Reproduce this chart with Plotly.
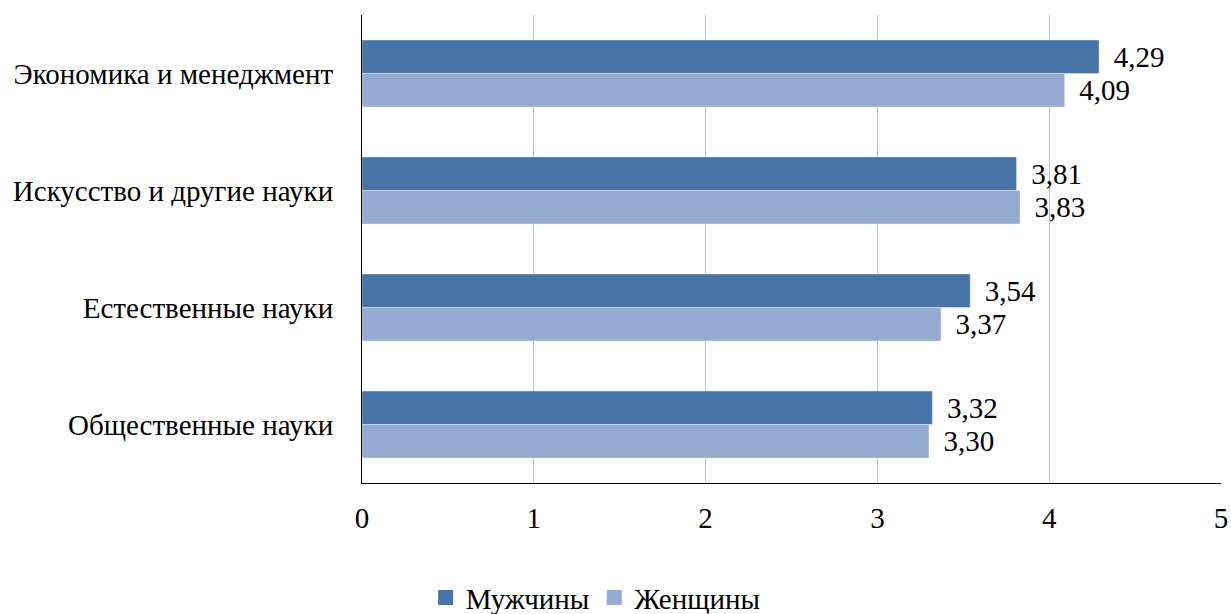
import plotly.graph_objects as go

categories = ["Экономика и менеджмент", "Искусство и другие науки", "Естественные науки", "Общественные науки"]
men = [4.29, 3.81, 3.54, 3.32]
women = [4.09, 3.83, 3.37, 3.30]
series_names = ["Мужчины", "Женщины"]
colors = ["#4674A8", "#95AACF"]
x_ticks = [0, 1, 2, 3, 4, 5]

FONT = "'Times New Roman', 'Liberation Serif', serif"
FS = 29

def fmt(vals):
    return ["\u2009\u2009" + f"{v:.2f}".replace(".", ",") for v in vals]

fig = go.Figure()
for name, vals, col in zip(series_names, [men, women], colors):
    fig.add_trace(go.Bar(y=categories, x=vals, orientation="h", name=name, showlegend=False,
                         marker=dict(color=col), text=fmt(vals), textposition="outside",
                         textfont=dict(size=FS, color="black", family=FONT), cliponaxis=False))
# legend entries with larger square symbols
for name, col in zip(series_names, colors):
    fig.add_trace(go.Scatter(x=[None], y=[None], mode="markers", name=name,
                             marker=dict(symbol="square", size=15, color=col)))

fig.update_layout(
    width=1231, height=614,
    margin=dict(l=362, r=10, t=15, b=131, autoexpand=False),
    barmode="group", bargap=0.427, bargroupgap=0,
    plot_bgcolor="white", paper_bgcolor="white",
    font=dict(family=FONT, size=FS, color="black"),
    xaxis=dict(range=[0, 5], tickvals=x_ticks, showgrid=True, gridcolor="#BFBFBF", gridwidth=1,
               showline=True, linecolor="black", linewidth=1, zeroline=False, automargin=False,
               ticks="", ticklabelstandoff=9, tickfont=dict(size=FS, family=FONT)),
    yaxis=dict(autorange="reversed", showline=True, linecolor="black", linewidth=1, automargin=False,
               ticks="", ticklabelstandoff=22, tickfont=dict(size=FS, family=FONT)),
    legend=dict(orientation="h", x=0.272, xanchor="center",
                y=-0.245, yanchor="middle", font=dict(size=FS, family=FONT),
                itemwidth=30, tracegroupgap=0),
    showlegend=True,
)

fig.write_html("out.html")
